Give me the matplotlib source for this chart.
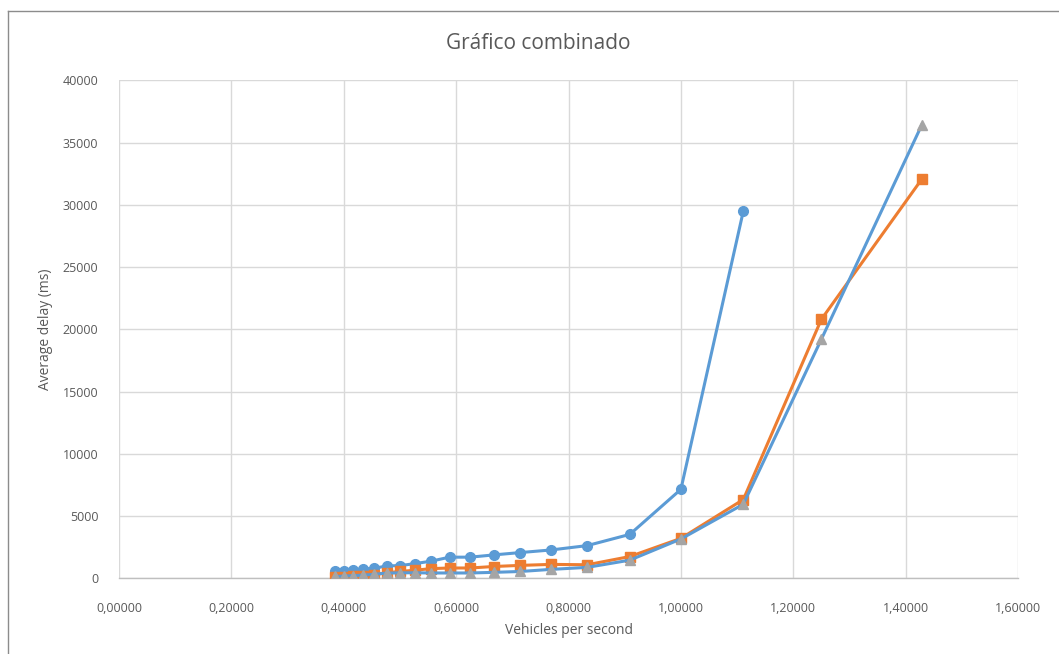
import matplotlib.pyplot as plt
from matplotlib.ticker import FuncFormatter, MultipleLocator
from matplotlib.lines import Line2D

plt.rcParams['font.family'] = ['Open Sans', 'DejaVu Sans']

# vehicles per second
vps = [0.38462, 0.40000, 0.41667, 0.43478, 0.45455, 0.47619, 0.50000,
       0.52632, 0.55556, 0.58824, 0.62500, 0.66667, 0.71429, 0.76923,
       0.83333, 0.90909, 1.00000, 1.11111, 1.25000, 1.42857]

# average delay (ms) per series
delay_1 = [580, 600, 680, 760, 800, 1000, 1020, 1180, 1380, 1700, 1700,
           1880, 2070, 2280, 2630, 3530, 7150, 29500]
delay_2 = [100, 120, 150, 180, 300, 450, 550, 650, 780, 830, 830, 950,
           1040, 1120, 1090, 1750, 3210, 6330, 20800, 32050]
delay_3 = [150, 180, 220, 260, 330, 420, 440, 450, 430, 430, 430, 480,
           550, 720, 880, 1460, 3160, 5950, 19200, 36400]

blue = '#5B9BD5'
orange = '#ED7D31'
grey = '#A5A5A5'
txt = '#595959'

fig = plt.figure(figsize=(10.59, 6.54), dpi=100)
ax = fig.add_axes([0.1124, 0.1157, 0.8489, 0.7615])

ax.plot(vps[:len(delay_1)], delay_1, color=blue, lw=2.2, marker='o', ms=7,
        mfc=blue, mec=blue, zorder=3)
ax.plot(vps, delay_2, color=orange, lw=2.2, marker='s', ms=6.5,
        mfc=orange, mec=orange, zorder=4)
ax.plot(vps, delay_3, color=blue, lw=2.2, marker='^', ms=7.5,
        mfc=grey, mec=grey, zorder=5)

ax.set_xlim(0, 1.6)
ax.set_ylim(0, 40000)
ax.xaxis.set_major_locator(MultipleLocator(0.2))
ax.yaxis.set_major_locator(MultipleLocator(5000))
ax.xaxis.set_major_formatter(FuncFormatter(lambda v, p: f'{v:.5f}'.replace('.', ',')))
ax.yaxis.set_major_formatter(FuncFormatter(lambda v, p: f'{v:.0f}'))

ax.grid(True, color='#D9D9D9', lw=1)
ax.set_axisbelow(True)
for s in ['top', 'right', 'left']:
    ax.spines[s].set_visible(False)
ax.spines['bottom'].set_color('#BFBFBF')
ax.spines['bottom'].set_linewidth(1)
ax.tick_params(length=0, labelsize=9, colors=txt)
ax.tick_params(axis='x', pad=17)
ax.tick_params(axis='y', pad=15)

ax.set_xlabel('Vehicles per second', fontsize=10, color=txt, labelpad=6)
ax.set_ylabel('Average delay (ms)', fontsize=10, color=txt, labelpad=7)
fig.text(0.508, 0.933, 'Gráfico combinado', ha='center', va='center',
         fontsize=15, color=txt)

# chart border (left and top visible in the crop)
fig.add_artist(Line2D([0.0076, 0.0076], [0, 0.983], color='#8C8C8C', lw=1,
                      transform=fig.transFigure))
fig.add_artist(Line2D([0.0076, 1], [0.983, 0.983], color='#8C8C8C', lw=1,
                      transform=fig.transFigure))

fig.savefig('out.png', dpi=100)
